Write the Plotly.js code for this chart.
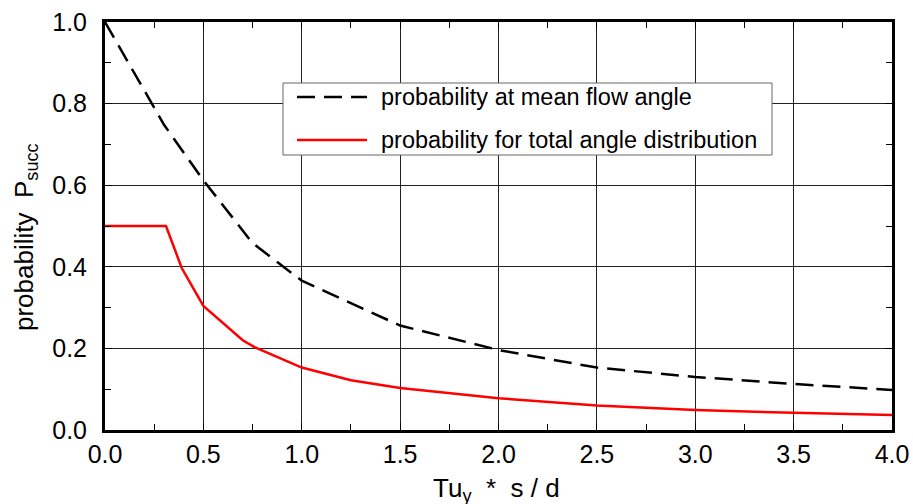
<!DOCTYPE html>
<html><head><meta charset="utf-8">
<script src="https://cdn.plot.ly/plotly-3.0.1.min.js"></script>
<style>html,body{margin:0;padding:0;background:#fff}#c{width:913px;height:504px}</style>
</head><body><div id="c"></div>
<script>
const meanX = [0.0, 0.3, 0.5, 0.75, 1.0, 1.25, 1.5, 2.0, 2.5, 3.0, 3.5, 4.0];
const meanY = [1.0, 0.748, 0.612, 0.458, 0.366, 0.31, 0.256, 0.196, 0.153, 0.13, 0.113, 0.098];
const totalX = [0.0, 0.31, 0.39, 0.5, 0.7, 0.76, 1.0, 1.25, 1.5, 2.0, 2.5, 3.0, 3.5, 4.0];
const totalY = [0.5, 0.5, 0.397, 0.304, 0.22, 0.203, 0.153, 0.122, 0.103, 0.078, 0.06, 0.049, 0.042, 0.037];
const names = ['probability at mean flow angle', 'probability for total angle distribution'];
const xTicks = [0, 0.5, 1, 1.5, 2, 2.5, 3, 3.5, 4];
const xTickText = ['0.0','0.5','1.0','1.5','2.0','2.5','3.0','3.5','4.0'];
const yTicks = [0, 0.2, 0.4, 0.6, 0.8, 1.0];
const yTickText = ['0.0','0.2','0.4','0.6','0.8','1.0'];
const xTitle = 'Tu<sub>y</sub>&nbsp;&nbsp;*&nbsp;&nbsp;s / d';
const yTitle = 'probability&nbsp;&nbsp;P<sub>succ</sub>';

const font = '"Liberation Sans", Arial, sans-serif';
const W = 913, H = 504, ML = 105, MR = 21, MT = 22, MB = 74;
const PW = W - ML - MR, PH = H - MT - MB;
const px = p => (p - ML) / PW;        // page pixel -> paper x
const py = p => (H - MB - p) / PH;    // page pixel -> paper y

const colors = ['#000000', '#ff0000'];
const dashes = ['18px,9px', 'solid'];
const traces = [
  {x: meanX, y: meanY, name: names[0], mode: 'lines', showlegend: false,
   line: {color: colors[0], width: 2.5, dash: dashes[0]}},
  {x: totalX, y: totalY, name: names[1], mode: 'lines', showlegend: false,
   line: {color: colors[1], width: 2.5}}
];
const axisCommon = {
  showline: true, linecolor: '#000', linewidth: 3, mirror: 'ticks',
  ticks: 'inside', ticklen: 7, tickwidth: 1, tickcolor: '#000',
  showgrid: true, gridcolor: '#222', gridwidth: 1, zeroline: false,
  tickfont: {family: font, size: 25, color: '#000'}
};

// manual legend (box, samples, labels)
const legRows = [97, 140];
const shapes = [
  {type: 'rect', xref: 'paper', yref: 'paper', x0: px(283), x1: px(772), y0: py(155), y1: py(83),
   fillcolor: '#fff', line: {color: '#666', width: 1}, layer: 'above'}
];
const annotations = [];
legRows.forEach((r, i) => {
  shapes.push({type: 'line', xref: 'paper', yref: 'paper', x0: px(297), x1: px(367), y0: py(r), y1: py(r),
    line: {color: colors[i], width: 2.5, dash: dashes[i]}, layer: 'above'});
  annotations.push({xref: 'paper', yref: 'paper', x: px(379), y: py(r), xanchor: 'left', yanchor: 'middle',
    text: names[i], showarrow: false, font: {family: font, size: 23.5, color: '#000'}});
});
annotations.push({xref: 'paper', yref: 'paper', x: px(25), y: py(237), xanchor: 'center', yanchor: 'middle',
  textangle: -90, text: yTitle, showarrow: false, font: {family: font, size: 26, color: '#000'}});
annotations.push({xref: 'paper', yref: 'paper', x: px(496), y: py(490), xanchor: 'center', yanchor: 'middle',
  text: xTitle, showarrow: false, font: {family: font, size: 26, color: '#000'}});

const layout = {
  width: W, height: H,
  margin: {l: ML, r: MR, t: MT, b: MB},
  paper_bgcolor: '#fff', plot_bgcolor: '#fff',
  font: {family: font, color: '#000'},
  showlegend: false,
  xaxis: Object.assign({}, axisCommon, {
    range: [0, 4], tickvals: xTicks, ticktext: xTickText, ticklabelstandoff: 0,
    minor: {dtick: 0.25, tick0: 0, ticks: 'inside', ticklen: 6, tickcolor: '#000', showgrid: false}
  }),
  yaxis: Object.assign({}, axisCommon, {
    range: [0, 1], tickvals: yTicks, ticktext: yTickText, ticklabelstandoff: 10,
    minor: {dtick: 0.1, tick0: 0, ticks: 'inside', ticklen: 6, tickcolor: '#000', showgrid: false}
  }),
  shapes: shapes,
  annotations: annotations
};
Plotly.newPlot('c', traces, layout, {displayModeBar: false, staticPlot: true});
</script></body></html>
